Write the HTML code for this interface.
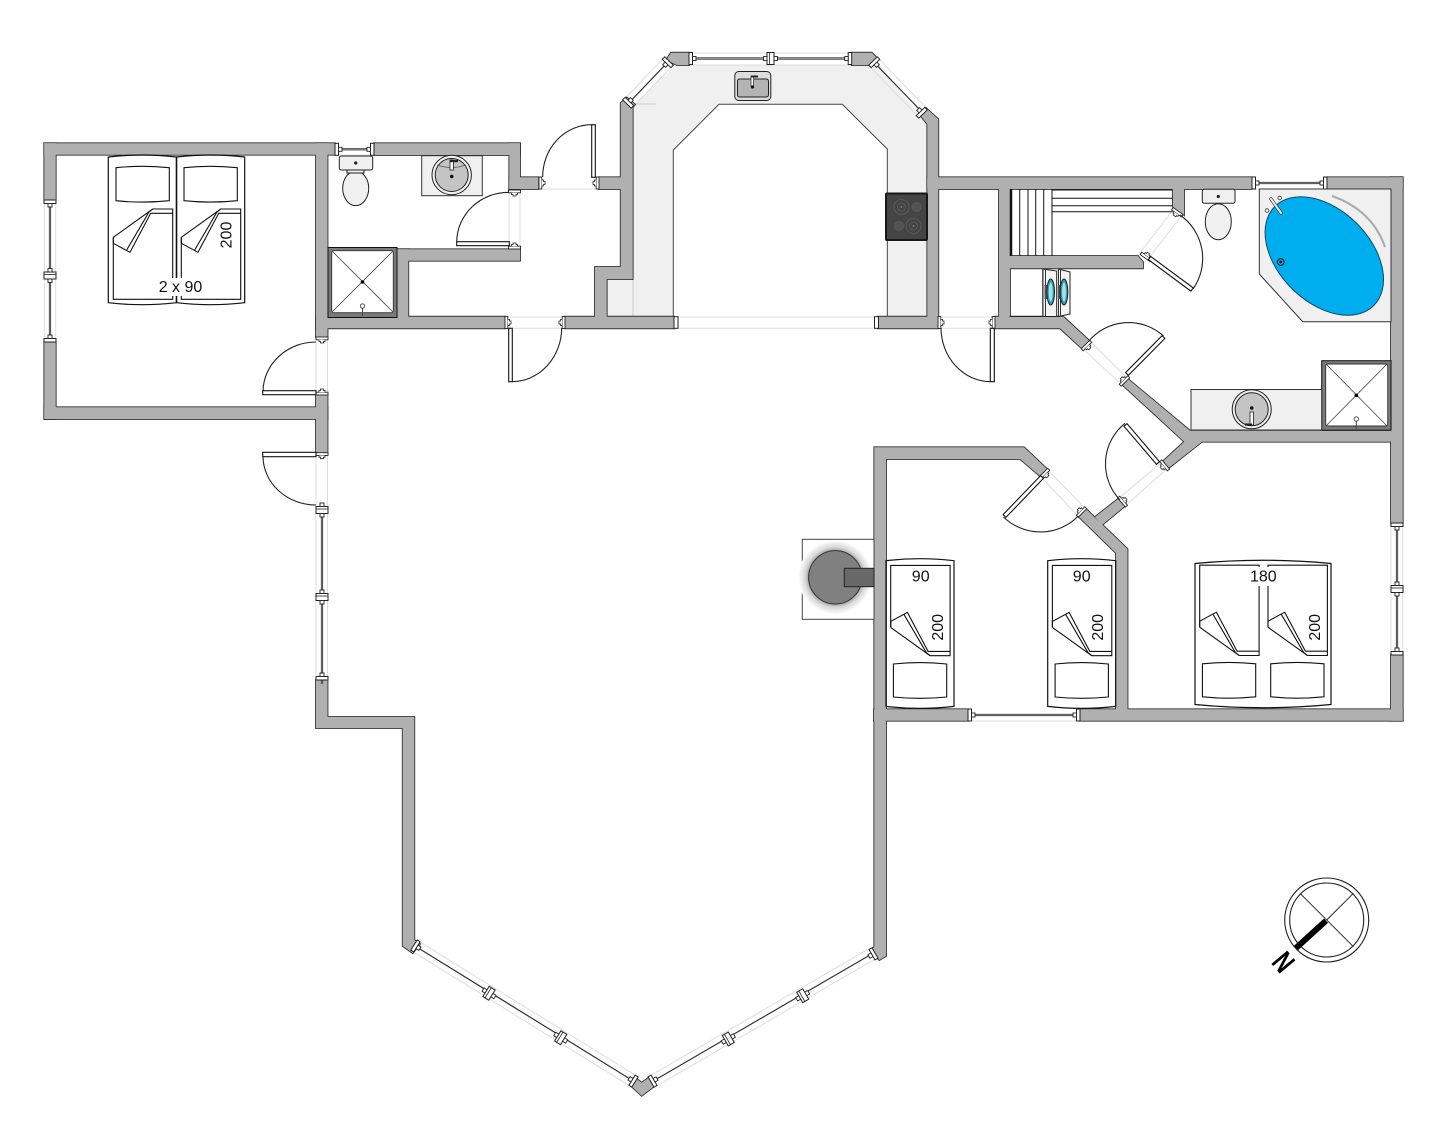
<!DOCTYPE html>
<html><head><meta charset="utf-8"><title>Floor plan</title>
<style>
html,body{margin:0;padding:0;background:#fff}
svg{display:block}
text{font-family:"Liberation Sans",sans-serif;font-size:16px;fill:#111;text-anchor:middle}
.g{stroke:#ddd;stroke-width:1;fill:none}
.arc{stroke:#222;stroke-width:1.1;fill:none}
.leaf{fill:#fff;stroke:#111;stroke-width:1.1}
.wl{stroke:#333;stroke-width:2.2;fill:none}
.wc{stroke:#aaa;stroke-width:.7;fill:none}
</style></head><body>
<svg width="1451" height="1132" viewBox="0 0 1451 1132" xmlns="http://www.w3.org/2000/svg">
<defs>
<g id="walls">
<path d="M44.3 143.3H335V154.7H44.3Z"/>
<path d="M44.3 143.3H55.7V200H44.3Z"/>
<path d="M44.3 342H55.7V419H44.3Z"/>
<path d="M44.3 407.3H327.5V419H44.3Z"/>
<path d="M316 143.3H327.5V337H316Z"/>
<path d="M316 395H327.5V452.7H316Z"/>
<path d="M316 316.7H505V328.3H316Z"/>
<path d="M374 143.3H520V155H374Z"/>
<path d="M509.3 143.3H520V189H509.3Z"/>
<path d="M509.3 177.3H538.3V189H509.3Z"/>
<path d="M397 249.3H520V260.7H397Z"/>
<path d="M397 249.3H408.3V317H397Z"/>
<path d="M599 177.3H625V189H599Z"/>
<path d="M620.7 103L626.7 97.5L635 104.5L632.7 107V279H606.7V317H595V267H620.7Z"/>
<path d="M565 316.7H674V328.3H565Z"/>
<path d="M878 316.7H938.3V328.3H878Z"/>
<path d="M920 115L926 108L938.3 119.3V317H927.3V124Z"/>
<path d="M927.3 177.3H1251.7V189H927.3Z"/>
<path d="M1327 177.3H1402.7V189H1327Z"/>
<path d="M1391 177.3H1402.7V523H1391Z"/>
<path d="M1391 655H1402.7V720.7H1391Z"/>
<path d="M1080 709.3H1402.7V720.7H1080Z"/>
<path d="M874 709.3H968V720.7H874Z"/>
<path d="M874.3 447.3H1024L1047 469L1040 476L1020 459H886V956L879.3 960L870 950L874.3 947Z"/>
<path d="M995 316.7H1063.3L1089.3 340.7L1081.7 348.3L1060 328.3H995Z"/>
<path d="M999 189H1010V317H999Z"/>
<path d="M1009 256H1138L1143 262V268.3H1009Z"/>
<path d="M1172.7 189H1184V215L1173 207Z"/>
<path d="M1122.7 385L1128.3 379.3L1190 430.7H1391V441.7H1202L1168.3 468.3L1163.3 461L1184.3 441.7Z"/>
<path d="M1095 517L1118 499L1125 506L1102 525Z"/>
<path d="M1079 517L1086 509L1127.5 549V709.5H1116V553Z"/>
<path d="M316 680H327.5V717H414.3V940L420 944L412.7 953L402.7 946V728H316Z"/>
<path d="M671 52.7H689V65H677L666 60Z"/>
<path d="M851.7 52.7H871.7L877 58L868 65H851.7Z"/>
<path d="M630 1085L636 1078.3L641.7 1082.7L650 1076.7L655.7 1085L641.7 1095.7Z"/>
</g>
<g id="we"><rect x="0" y="-6" width="3.5" height="12" fill="#fff" stroke="#222" stroke-width="1"/><rect x="3.5" y="-2" width="3.5" height="4" fill="#fff" stroke="#222" stroke-width=".9"/></g>
<g id="wm"><rect x="-3.5" y="-6" width="7" height="12" fill="#fff" stroke="#222" stroke-width="1"/><path d="M-1-6V6" stroke="#222" stroke-width=".8"/><rect x="3.5" y="-2" width="3.5" height="4" fill="#fff" stroke="#222" stroke-width=".9"/><rect x="-7" y="-2" width="3.5" height="4" fill="#fff" stroke="#222" stroke-width=".9"/></g>
<g id="j"><rect x="0" y="-6" width="2.8" height="12" fill="#fff" stroke="#222" stroke-width=".9"/><path d="M2.8-3H4.5V-1.5H6V1.5H4.5V3H2.8" fill="#fff" stroke="#222" stroke-width=".8"/></g>
<g id="blanket" fill="none" stroke="#111" stroke-width="1.1">
<path d="M0 28.3V90.3H59.4V0H39.4L0 28.3"/>
<path d="M0 28.3V34.3L16.7 43.3L37.4 4.3H59.4"/>
<path d="M13.4 41L35.7 3L39.4 0"/>
<path d="M2.7-41.3Q29-44 56-41.3V-8.3Q29-5.5 2.7-8.3Z"/>
</g>
<g id="frameL" fill="none" stroke="#111" stroke-width="1.2"><path d="M0 0Q34-4 68 0V145.7Q34 149.7 0 145.7Z"/></g>
<radialGradient id="fs" gradientUnits="userSpaceOnUse" cx="835.3" cy="577.3" r="37"><stop offset=".7" stop-color="#9a9a9a"/><stop offset=".82" stop-color="#d8d8d8"/><stop offset="1" stop-color="#fff"/></radialGradient>
</defs>

<!-- counters -->
<path d="M632.7 317V105L676 65H880L927 125V317H887.3V149L842.3 104.3H719L673.3 150V317Z" fill="#f0f0f0"/>
<rect x="606.7" y="279" width="26" height="38" fill="#f0f0f0"/>
<path d="M673.3 317V150L719 104.3H842.3L887.3 149V317" fill="none" stroke="#444" stroke-width="1"/>
<path d="M633 279V317M636 104H656" stroke="#ccc" stroke-width="1" fill="none"/>

<!-- light opening lines -->
<g class="g">
<path d="M316 337V395M327.5 337V395M316 452V505M327.5 452V505M316 505V680M327.5 505V680"/>
<path d="M505 317H565M505 328.3H565M678 317H875M678 328.3H875M938 317H995M938 328.3H995"/>
<path d="M538 189H599M509 190V250M520 190V250"/>
<path d="M1140 253L1173 210M1148 259L1182 215M1089 340L1128 379M1082 348L1122 385"/>
<path d="M1163 461L1118 499M1168 468L1125 506M1047 469L1086 509M1040 476L1079 517"/>
<path d="M44.3 200V342M55.7 200V342M1391 523V655M1402.7 523V655M968 721H1080M689 53H852M689 65H852M1252 189H1327M335 155H374"/>
<path d="M418.2 940.9L634.9 1074.9M411.8 951.1L628.5 1085.1M658 1085.2L874.7 959.2M652 1074.8L868.7 948.8"/>
<path d="M634.3 105.8L671 67.4M625.7 97.6L662.4 59.2M879.3 59.2L926 107.6M870.7 67.4L917.4 115.8"/>
</g>

<!-- walls -->
<use href="#walls" fill="#333" stroke="#333" stroke-width="1.8"/>
<use href="#walls" fill="#b0b0b0"/>
<rect x="674" y="316.7" width="4" height="11.6" fill="#fff" stroke="#222"/>
<rect x="874.5" y="316.7" width="4" height="11.6" fill="#fff" stroke="#222"/>

<!-- window rails -->
<path class="wl" d="M50 204V338M322 512V684M1397 527V651M335 149.3H374M1252 183H1327M968 715H1080M689 58.5H852"/>
<path class="wc" d="M50 204V338M322 512V684M1397 527V651M335 149.3H374M1252 183H1327M968 715H1080M689 58.5H852"/>
<path d="M630 101.7L666.7 63.3M875 63.3L921.7 111.7M415 946L631.7 1080M655 1080L871.7 954" stroke="#333" stroke-width="1.2" fill="none"/>

<!-- window caps -->
<use href="#we" transform="translate(50 200) rotate(90)"/><use href="#we" transform="translate(50 342) rotate(-90)"/><use href="#wm" transform="translate(50 275.5) rotate(90)"/>
<use href="#we" transform="translate(335 149.3)"/><use href="#we" transform="translate(374 149.3) rotate(180)"/>
<use href="#wm" transform="translate(322 510) rotate(90)"/><use href="#wm" transform="translate(322 597) rotate(90)"/><use href="#we" transform="translate(322 680) rotate(-90)"/>
<use href="#we" transform="translate(689 58.5)"/><use href="#wm" transform="translate(770.5 58.5)"/><use href="#we" transform="translate(851.7 58.5) rotate(180)"/>
<use href="#we" transform="translate(627 104) rotate(-46)"/><use href="#we" transform="translate(669 61) rotate(134)"/>
<use href="#we" transform="translate(873 61) rotate(46)"/><use href="#we" transform="translate(923 114) rotate(-134)"/>
<use href="#we" transform="translate(1252 183)"/><use href="#we" transform="translate(1327 183) rotate(180)"/>
<use href="#we" transform="translate(1397 523) rotate(90)"/><use href="#wm" transform="translate(1397 589) rotate(90)"/><use href="#we" transform="translate(1397 655) rotate(-90)"/>
<use href="#we" transform="translate(968 715)"/><use href="#we" transform="translate(1080 715) rotate(180)"/>
<use href="#we" transform="translate(414 945) rotate(32)"/><use href="#wm" transform="translate(489 993.3) rotate(32)"/><use href="#wm" transform="translate(560.7 1037.7) rotate(32)"/><use href="#we" transform="translate(635 1082) rotate(-148)"/>
<use href="#we" transform="translate(651 1082) rotate(-30)"/><use href="#wm" transform="translate(728.3 1039) rotate(-30)"/><use href="#wm" transform="translate(802.7 995.7) rotate(-30)"/><use href="#we" transform="translate(875 953) rotate(150)"/>

<!-- door jambs -->
<use href="#j" transform="translate(322 337) rotate(90)"/><use href="#j" transform="translate(322 395) rotate(-90)"/><use href="#j" transform="translate(322 452.7) rotate(90)"/>
<use href="#j" transform="translate(539 183)"/><use href="#j" transform="translate(599 183) rotate(180)"/>
<use href="#j" transform="translate(514.5 190) rotate(90)"/><use href="#j" transform="translate(514.5 249) rotate(-90)"/>
<use href="#j" transform="translate(505 322.5)"/><use href="#j" transform="translate(565 322.5) rotate(180)"/>
<use href="#j" transform="translate(938 322.5)"/><use href="#j" transform="translate(995 322.5) rotate(180)"/>
<use href="#j" transform="translate(1178 211) rotate(125)"/><use href="#j" transform="translate(1145 258) rotate(-55)"/>
<use href="#j" transform="translate(1085.5 344.5) rotate(45)"/><use href="#j" transform="translate(1125.5 382) rotate(225)"/>
<use href="#j" transform="translate(1165.7 464.5) rotate(140)"/><use href="#j" transform="translate(1121.5 502.5) rotate(-40)"/>
<use href="#j" transform="translate(1043.5 472.5) rotate(45)"/><use href="#j" transform="translate(1082.5 513) rotate(225)"/>

<!-- doors -->
<rect class="leaf" x="262.7" y="390.7" width="53.3" height="4"/><path class="arc" d="M263 391A53 50 0 0 1 316 342"/>
<rect class="leaf" x="262.7" y="452.3" width="53.3" height="4.4"/><path class="arc" d="M263 456.7A53 49 0 0 0 316 505"/>
<rect class="leaf" x="591.7" y="124.7" width="3.6" height="52.6"/><path class="arc" d="M591.7 124.7A49 52 0 0 0 542.7 177"/>
<rect class="leaf" x="456.7" y="241.7" width="52.6" height="4"/><path class="arc" d="M456.7 241.7A52 50 0 0 1 509 192.3"/>
<rect class="leaf" x="508.7" y="328.3" width="3.6" height="53.4"/><path class="arc" d="M512 381.7A50 54 0 0 0 561.7 328"/>
<rect class="leaf" x="990.3" y="328.3" width="4" height="53.4"/><path class="arc" d="M990.3 381.7A50 54 0 0 1 941 328"/>
<polygon class="leaf" points="1150.7,256.4 1193.2,287.9 1190.8,291.1 1148.3,259.6"/><path class="arc" d="M1193 289A53 53 0 0 0 1180 215"/>
<polygon class="leaf" points="1125.6,372.6 1162.1,335.6 1164.9,338.4 1128.4,375.4"/><path class="arc" d="M1163.5 336A52 52 0 0 0 1088.3 341.7"/>
<polygon class="leaf" points="1159.5,461.7 1127,423.7 1124,426.3 1156.5,464.3"/><path class="arc" d="M1125 423.3A52 52 0 0 0 1120 500"/>
<polygon class="leaf" points="1043.4,478.4 1005.9,517.4 1003.1,514.6 1040.6,475.6"/><path class="arc" d="M1003.5 517A53 53 0 0 0 1078.3 516"/>

<!-- left bed -->
<use href="#frameL" transform="translate(108.3 157)"/><use href="#frameL" transform="translate(176.7 157)"/>
<use href="#blanket" transform="translate(113.3 209)"/><use href="#blanket" transform="translate(181.3 209)"/>
<rect x="158" y="278" width="46" height="18" fill="#fff"/>
<text x="180.5" y="292">2 x 90</text>
<text transform="translate(226 235) rotate(-90)" y="5.5">200</text>

<!-- single beds -->
<use href="#frameL" transform="translate(886 560.7)"/><use href="#blanket" transform="translate(890.7 655.7) scale(1 -1)"/>
<use href="#frameL" transform="translate(1047.7 560.7)"/><use href="#blanket" transform="translate(1052.4 655.7) scale(1 -1)"/>
<text x="920.7" y="581.5">90</text><text transform="translate(937.3 627.3) rotate(-90)" y="5.5">200</text>
<text x="1081.7" y="581.5">90</text><text transform="translate(1097.3 627.3) rotate(-90)" y="5.5">200</text>

<!-- double bed -->
<path d="M1195 563.5Q1263 557 1331 563.5V704.5Q1263 711 1195 704.5Z" fill="none" stroke="#111" stroke-width="1.2"/>
<use href="#blanket" transform="translate(1199.7 655.5) scale(1 -1)"/><use href="#blanket" transform="translate(1268 655.5) scale(1 -1)"/>
<rect x="1246" y="567" width="36" height="19" fill="#fff"/>
<text x="1263.3" y="581.5">180</text>
<text transform="translate(1314.3 627.3) rotate(-90)" y="5.5">200</text>

<!-- fireplace -->
<rect x="802.3" y="539.3" width="71.7" height="80" fill="#fff" stroke="#444" stroke-width="1"/>
<circle cx="835.3" cy="577.3" r="37" fill="url(#fs)"/>
<circle cx="835.3" cy="577.3" r="26.7" fill="#808080" stroke="#333" stroke-width="1"/>
<rect x="844.3" y="568.3" width="29.7" height="18.4" fill="#686868" stroke="#222" stroke-width="1"/>

<!-- toilets -->
<g stroke="#222" stroke-width="1" fill="#f0f0f0">
<ellipse cx="355.7" cy="188.3" rx="13" ry="17.3"/><rect x="339.3" y="156" width="33.4" height="14" rx="2"/><rect x="347" y="170" width="17" height="3"/>
<ellipse cx="1218.3" cy="221.7" rx="13" ry="18"/><rect x="1202.3" y="189.3" width="32.7" height="14" rx="2"/>
</g>
<circle cx="355.7" cy="163" r="1.6" fill="#222"/><circle cx="1218.3" cy="196.5" r="1.6" fill="#222"/>

<!-- bath sink left -->
<rect x="421.7" y="155.7" width="60.6" height="40" fill="#f0f0f0" stroke="#333" stroke-width="1"/>
<circle cx="451.7" cy="175" r="19.7" fill="#f0f0f0" stroke="#222"/><circle cx="451.7" cy="175" r="16.5" fill="#c4c4c4" stroke="#222"/>
<path d="M437 165Q452 170 466 165" fill="none" stroke="#555" stroke-width=".7"/>
<rect x="450" y="160" width="3.4" height="10" fill="#fff" stroke="#222" stroke-width=".8"/><rect x="450" y="160" width="8" height="2.2" fill="#222"/><circle cx="451.7" cy="176.5" r="1.8" fill="#111"/>

<!-- kitchen sink -->
<rect x="734.8" y="71.5" width="36" height="29" rx="4" fill="#ddd" stroke="#222"/>
<rect x="737.5" y="79" width="31" height="18" rx="2" fill="#b4b4b4" stroke="#222"/>
<rect x="751" y="76" width="2.6" height="10" fill="#fff" stroke="#222" stroke-width=".7"/><rect x="751" y="75.5" width="7" height="2" fill="#222"/><circle cx="752.5" cy="87" r="1.6" fill="#111"/>

<!-- hob -->
<rect x="886" y="193.5" width="41" height="46.5" rx="1" fill="#454545" stroke="#181818" stroke-width="2"/>
<g fill="none" stroke="#5c5c5c" stroke-width=".8"><circle cx="901.5" cy="207" r="7.5"/><circle cx="901.5" cy="207" r="4"/><circle cx="916.5" cy="207" r="4.5" fill="#525252"/><circle cx="899" cy="226" r="4.5" fill="#525252"/><circle cx="913.5" cy="226" r="7.5"/><circle cx="913.5" cy="226" r="4"/></g>
<circle cx="901.5" cy="207" r=".9" fill="#888"/><circle cx="913.5" cy="226" r=".9" fill="#888"/>

<!-- showers -->
<g>
<rect x="328" y="247.5" width="69" height="70" fill="#7a7a7a" stroke="#111" stroke-width="1"/>
<rect x="331.7" y="250.7" width="61.6" height="62" rx="2" fill="#fff" stroke="#333" stroke-width=".9"/>
<path d="M332 251L393 312M393 251L332 312" stroke="#444" stroke-width=".8"/><circle cx="362.5" cy="282" r="1.8" fill="#000"/>
<path d="M362.5 316V307" stroke="#444" stroke-width="1"/><circle cx="362.5" cy="306" r="2.2" fill="#fff" stroke="#333" stroke-width=".8"/>
<rect x="1321.7" y="360.7" width="69.3" height="69.5" fill="#7a7a7a" stroke="#111" stroke-width="1"/>
<rect x="1325.7" y="364" width="62" height="62" rx="2" fill="#fff" stroke="#333" stroke-width=".9"/>
<path d="M1326 364L1387 426M1387 364L1326 426" stroke="#444" stroke-width=".8"/><circle cx="1356.3" cy="395.3" r="1.8" fill="#000"/>
<path d="M1356.3 429V420" stroke="#444" stroke-width="1"/><circle cx="1356.3" cy="419" r="2.2" fill="#fff" stroke="#333" stroke-width=".8"/>
</g>

<!-- bath counter + sink -->
<rect x="1191" y="389.5" width="130.7" height="40.5" fill="#f0f0f0" stroke="#333" stroke-width="1"/>
<circle cx="1251.7" cy="409.3" r="19.5" fill="#f0f0f0" stroke="#222"/><circle cx="1251.7" cy="409.3" r="16.5" fill="#c4c4c4" stroke="#222"/>
<rect x="1250" y="412" width="3.4" height="13" fill="#fff" stroke="#222" stroke-width=".8"/><rect x="1245" y="423.5" width="7" height="2.2" fill="#222"/><circle cx="1251.7" cy="408" r="1.8" fill="#111"/>

<!-- tub -->
<path d="M1259.3 189H1391V321.7H1302.7L1259.3 274Z" fill="#f0f0f0" stroke="#333" stroke-width="1"/>
<path d="M1332 196Q1372 210 1385 247" fill="none" stroke="#aaa" stroke-width="2"/>
<ellipse cx="1324.3" cy="256" rx="70" ry="46" transform="rotate(45 1324.3 256)" fill="#00aeef" stroke="#0a4a66" stroke-width="1"/>
<path d="M1271 199L1281 213" stroke="#333" stroke-width="3.4" stroke-linecap="round"/><path d="M1271 199L1281 213" stroke="#eee" stroke-width="2" stroke-linecap="round"/>
<circle cx="1279.7" cy="198" r="1.8" fill="#fff" stroke="#333" stroke-width=".8"/><circle cx="1267" cy="210.5" r="1.8" fill="#fff" stroke="#333" stroke-width=".8"/>
<circle cx="1280.7" cy="262" r="3.4" fill="none" stroke="#111" stroke-width="1"/><circle cx="1280.7" cy="262" r="1.4" fill="#111"/>

<!-- sauna benches -->
<path d="M1011 189V256" stroke="#111" stroke-width="2.5"/>
<path d="M1019.7 189V256M1028 189V256M1035.7 189V256M1043.7 189V256M1052 189V256M1052 190H1172.5M1052 198.3H1172.5M1052 205.7H1172.5M1052 211.7H1172.5" stroke="#111" stroke-width="1" fill="none"/>

<!-- washers -->
<path d="M1009.5 316.5H1060" stroke="#222" stroke-width="1"/>
<g stroke="#222" stroke-width="1">
<path d="M1042.7 269L1056.7 271V316.5H1042.7Z" fill="#f4f4f4"/>
<path d="M1058.5 269L1070 272V314L1058.5 316.5Z" fill="#f4f4f4"/>
<path d="M1043 269V316.5M1045.5 269V316.5M1058.5 269V316.5M1060.5 269V316.5" stroke="#333"/>
<rect x="1044.5" y="285" width="3" height="14" fill="#555" stroke="none"/><rect x="1057.8" y="285" width="3" height="14" fill="#555" stroke="none"/>
<ellipse cx="1050.7" cy="292" rx="3.8" ry="13" fill="#2e9cb3"/><ellipse cx="1050.7" cy="292" rx="2" ry="9.5" fill="#9fe0ea" stroke="none"/>
<ellipse cx="1064" cy="292" rx="3.8" ry="13" fill="#2e9cb3"/><ellipse cx="1064" cy="292" rx="2" ry="9.5" fill="#9fe0ea" stroke="none"/>
</g>

<!-- compass -->
<circle cx="1326.7" cy="920" r="42" fill="#fff" stroke="#222" stroke-width="1.1"/>
<circle cx="1326.7" cy="920" r="37" fill="#fff" stroke="#222" stroke-width="1.1"/>
<path d="M1300 893.3L1353.4 946.7M1353.4 893.3L1326.7 920" stroke="#222" stroke-width="1"/>
<path d="M1326 920.7L1296 948" stroke="#000" stroke-width="6"/>
<text transform="translate(1284 961.7) rotate(50) scale(.72 1)" y="11" style="font-size:30px;font-weight:bold;fill:#000">N</text>
</svg>
</body></html>
